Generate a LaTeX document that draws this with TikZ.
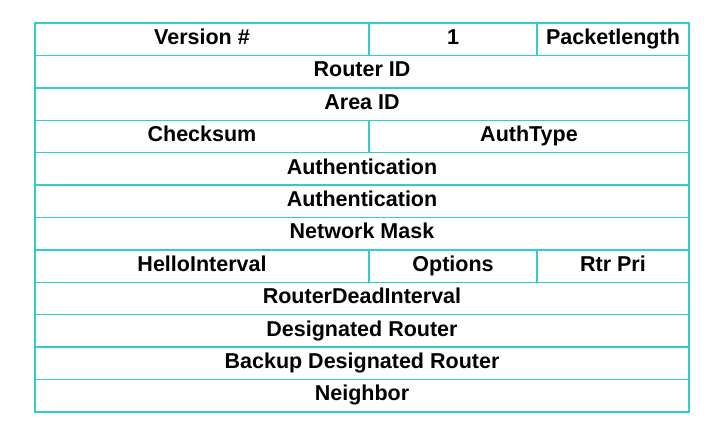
\documentclass[tikz,border=0pt]{standalone}
\usepackage{fontspec}
\setmainfont{Liberation Sans}
\usetikzlibrary{positioning}
\definecolor{tealline}{HTML}{33CCCC}

\tikzset{
  cell/.style={draw=tealline, line width=1.4pt, minimum height=32.4pt, inner sep=0pt,
    outer sep=0pt, text height=15pt, text depth=4.5pt,
    font=\fontsize{21.5}{24}\selectfont\bfseries},
  wide/.style={cell, minimum width=654pt},
  left/.style={cell, minimum width=334pt},
  mid/.style={cell, minimum width=168pt},
  rgt/.style={cell, minimum width=152pt}
}

\begin{document}
\begin{tikzpicture}[x=1pt, y=-1pt]
    \useasboundingbox (0,0) rectangle (712,432);

    % header row
    \node(ver)[left, anchor=north west] at (35,23) {Version \#};
    \node(one)[mid, right=0pt of ver]{1};
    \node(plen)[rgt, right=0pt of one]{Packetlength};

    \node(rid)[wide, below=0pt of ver.south west, anchor=north west]{Router ID};
    \node(aid)[wide, below=0pt of rid]{Area ID};

    \node(csum)[left, below=0pt of aid.south west, anchor=north west]{Checksum};
    \node(atype)[cell, minimum width=320pt, right=0pt of csum]{AuthType};

    \node(auth1)[wide, below=0pt of csum.south west, anchor=north west]{Authentication};
    \node(auth2)[wide, below=0pt of auth1]{Authentication};
    \node(mask)[wide, below=0pt of auth2]{Network Mask};

    \node(hint)[left, below=0pt of mask.south west, anchor=north west]{HelloInterval};
    \node(opts)[mid, right=0pt of hint]{Options};
    \node(rpri)[rgt, right=0pt of opts]{Rtr Pri};

    \node(dead)[wide, below=0pt of hint.south west, anchor=north west]{RouterDeadInterval};
    \node(dr)[wide, below=0pt of dead]{Designated Router};
    \node(bdr)[wide, below=0pt of dr]{Backup Designated Router};
    \node(nbr)[wide, below=0pt of bdr]{Neighbor};

\end{tikzpicture}
\end{document}
